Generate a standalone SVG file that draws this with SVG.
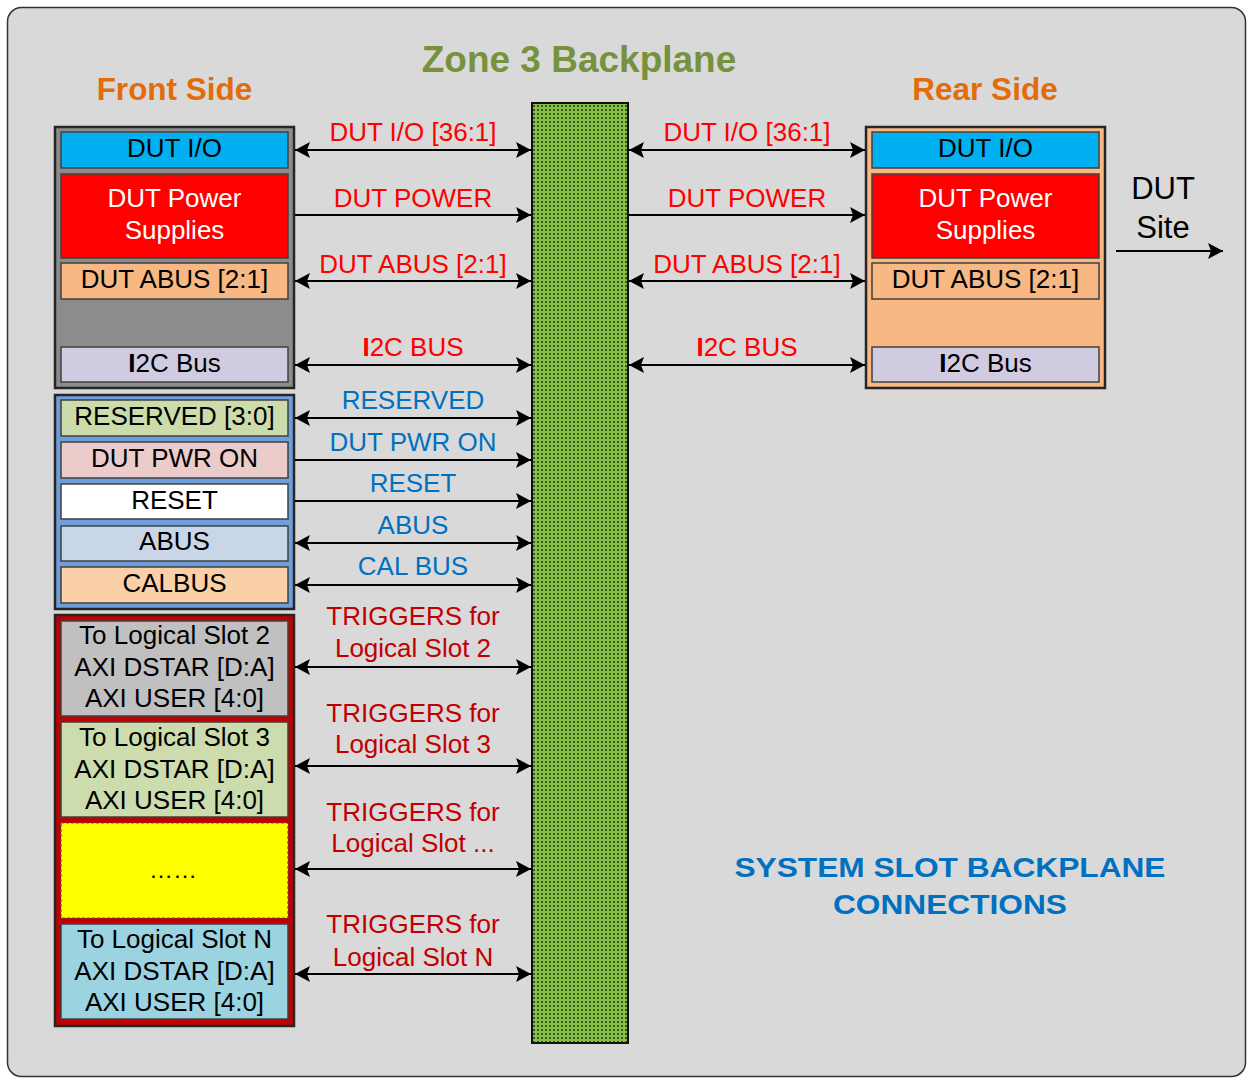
<svg xmlns="http://www.w3.org/2000/svg" width="1247" height="1078" viewBox="0 0 1247 1078">
<style>
text{font-family:"Liberation Sans",Arial,sans-serif;text-anchor:middle}
.t26{font-size:26px}
.blk{fill:#000}
.wht{fill:#fff}
.red{fill:#ff0000}
.blu{fill:#0070c0}
.drd{fill:#c00000}
.hdr{font-weight:bold;font-size:31.5px;fill:#e36c09}
.outer{stroke:#262626;stroke-width:2.5}
.inner{stroke:#404040;stroke-width:1.5}
.ln{stroke:#000;stroke-width:2;fill:none}
</style>
<defs>
<marker id="ah" viewBox="0 0 16 16" markerWidth="16" markerHeight="16" refX="15" refY="8" orient="auto-start-reverse" markerUnits="userSpaceOnUse">
<path d="M0,0 L15,8 L0,16 L3,8 Z" fill="#000"/>
</marker>
<pattern id="dots" width="4" height="4" patternUnits="userSpaceOnUse">
<rect width="4" height="4" fill="#86c246"/>
<rect x="1" y="1" width="2" height="2" fill="#38591c"/>
</pattern>
</defs>

<rect x="7.5" y="7.5" width="1238" height="1069" rx="14" fill="#d9d9d9" stroke="#333" stroke-width="1.5"/>

<text x="579" y="72" style="font-weight:bold;font-size:37px;fill:#76923c">Zone 3 Backplane</text>
<text x="174.5" y="100" class="hdr">Front Side</text>
<text x="985" y="100" class="hdr">Rear Side</text>

<g id="backplane">
<rect x="532" y="103" width="96" height="940" fill="url(#dots)" stroke="#111" stroke-width="2"/>
</g>

<g id="front-dut">
<rect x="55" y="127" width="239" height="261" fill="#8c8c8c" class="outer"/>
<rect x="61" y="132" width="227" height="36" fill="#00b0f0" class="inner"/>
<text x="174.5" y="157" class="t26 blk">DUT I/O</text>
<rect x="61" y="174" width="227" height="84" fill="#ff0000" class="inner"/>
<text x="174.5" y="207" class="t26 wht">DUT Power</text>
<text x="174.5" y="239" class="t26 wht">Supplies</text>
<rect x="61" y="263" width="227" height="36" fill="#f7b883" class="inner"/>
<text x="174.5" y="288" class="t26 blk">DUT ABUS [2:1]</text>
<rect x="61" y="347" width="227" height="35" fill="#d1cbe1" class="inner"/>
<text x="174.5" y="372" class="t26 blk"><tspan font-weight="bold">I</tspan>2C Bus</text>
</g>

<g id="rear-dut">
<rect x="866" y="127" width="239" height="261" fill="#f7b883" class="outer"/>
<rect x="872" y="132" width="227" height="36" fill="#00b0f0" class="inner"/>
<text x="985.5" y="157" class="t26 blk">DUT I/O</text>
<rect x="872" y="174" width="227" height="84" fill="#ff0000" class="inner"/>
<text x="985.5" y="207" class="t26 wht">DUT Power</text>
<text x="985.5" y="239" class="t26 wht">Supplies</text>
<rect x="872" y="263" width="227" height="36" fill="#f7b883" class="inner"/>
<text x="985.5" y="288" class="t26 blk">DUT ABUS [2:1]</text>
<rect x="872" y="347" width="227" height="35" fill="#d1cbe1" class="inner"/>
<text x="985.5" y="372" class="t26 blk"><tspan font-weight="bold">I</tspan>2C Bus</text>
</g>

<g id="front-ctrl">
<rect x="55" y="395" width="239" height="214" fill="#6f9fdb" class="outer"/>
<rect x="61" y="400" width="227" height="36" fill="#cbdbaa" class="inner"/>
<text x="174.5" y="425" class="t26 blk">RESERVED [3:0]</text>
<rect x="61" y="442" width="227" height="36" fill="#eccbcb" class="inner"/>
<text x="174.5" y="467" class="t26 blk">DUT PWR ON</text>
<rect x="61" y="484" width="227" height="35" fill="#ffffff" class="inner"/>
<text x="174.5" y="509" class="t26 blk">RESET</text>
<rect x="61" y="526" width="227" height="35" fill="#c8d6e8" class="inner"/>
<text x="174.5" y="550" class="t26 blk">ABUS</text>
<rect x="61" y="567" width="227" height="36" fill="#fad0a8" class="inner"/>
<text x="174.5" y="592" class="t26 blk">CALBUS</text>
</g>

<g id="front-slots">
<rect x="55" y="615" width="239" height="411" fill="#c00000" class="outer"/>
<rect x="61" y="621" width="227" height="95" fill="#c0c0c0" class="inner"/>
<text x="174.5" y="644" class="t26 blk">To Logical Slot 2</text>
<text x="174.5" y="676" class="t26 blk">AXI DSTAR [D:A]</text>
<text x="174.5" y="707" class="t26 blk">AXI USER [4:0]</text>
<rect x="61" y="722" width="227" height="95" fill="#ccdcac" class="inner"/>
<text x="174.5" y="746" class="t26 blk">To Logical Slot 3</text>
<text x="174.5" y="778" class="t26 blk">AXI DSTAR [D:A]</text>
<text x="174.5" y="809" class="t26 blk">AXI USER [4:0]</text>
<rect x="61" y="823" width="227" height="95" fill="#ffff00" stroke="#555" stroke-width="1.2" stroke-dasharray="3,2"/>
<text x="173" y="878" style="font-size:24px" class="blk">……</text>
<rect x="61" y="924" width="227" height="95" fill="#9cd3e0" class="inner"/>
<text x="174.5" y="948" class="t26 blk">To Logical Slot N</text>
<text x="174.5" y="980" class="t26 blk">AXI DSTAR [D:A]</text>
<text x="174.5" y="1011" class="t26 blk">AXI USER [4:0]</text>
</g>

<g id="connectors">
<line x1="295" y1="150" x2="531" y2="150" class="ln" marker-start="url(#ah)" marker-end="url(#ah)"/>
<line x1="295" y1="215" x2="531" y2="215" class="ln" marker-end="url(#ah)"/>
<line x1="295" y1="281" x2="531" y2="281" class="ln" marker-start="url(#ah)" marker-end="url(#ah)"/>
<line x1="295" y1="365" x2="531" y2="365" class="ln" marker-start="url(#ah)" marker-end="url(#ah)"/>

<line x1="629" y1="150" x2="865" y2="150" class="ln" marker-start="url(#ah)" marker-end="url(#ah)"/>
<line x1="629" y1="215" x2="865" y2="215" class="ln" marker-end="url(#ah)"/>
<line x1="629" y1="281" x2="865" y2="281" class="ln" marker-start="url(#ah)" marker-end="url(#ah)"/>
<line x1="629" y1="365" x2="865" y2="365" class="ln" marker-start="url(#ah)" marker-end="url(#ah)"/>

<line x1="295" y1="418" x2="531" y2="418" class="ln" marker-start="url(#ah)" marker-end="url(#ah)"/>
<line x1="295" y1="460" x2="531" y2="460" class="ln" marker-end="url(#ah)"/>
<line x1="295" y1="501" x2="531" y2="501" class="ln" marker-end="url(#ah)"/>
<line x1="295" y1="543" x2="531" y2="543" class="ln" marker-start="url(#ah)" marker-end="url(#ah)"/>
<line x1="295" y1="585" x2="531" y2="585" class="ln" marker-start="url(#ah)" marker-end="url(#ah)"/>

<line x1="295" y1="667" x2="531" y2="667" class="ln" marker-start="url(#ah)" marker-end="url(#ah)"/>
<line x1="295" y1="766" x2="531" y2="766" class="ln" marker-start="url(#ah)" marker-end="url(#ah)"/>
<line x1="295" y1="869" x2="531" y2="869" class="ln" marker-start="url(#ah)" marker-end="url(#ah)"/>
<line x1="295" y1="974" x2="531" y2="974" class="ln" marker-start="url(#ah)" marker-end="url(#ah)"/>

<line x1="1116" y1="251" x2="1223" y2="251" class="ln" marker-end="url(#ah)"/>
</g>

<g id="labels">
<text x="413" y="141" class="t26 red">DUT I/O [36:1]</text>
<text x="413" y="207" class="t26 red">DUT POWER</text>
<text x="413" y="273" class="t26 red">DUT ABUS [2:1]</text>
<text x="413" y="356" class="t26 red"><tspan font-weight="bold">I</tspan>2C BUS</text>
<text x="747" y="141" class="t26 red">DUT I/O [36:1]</text>
<text x="747" y="207" class="t26 red">DUT POWER</text>
<text x="747" y="273" class="t26 red">DUT ABUS [2:1]</text>
<text x="747" y="356" class="t26 red"><tspan font-weight="bold">I</tspan>2C BUS</text>

<text x="413" y="409" class="t26 blu">RESERVED</text>
<text x="413" y="451" class="t26 blu">DUT PWR ON</text>
<text x="413" y="492" class="t26 blu">RESET</text>
<text x="413" y="534" class="t26 blu">ABUS</text>
<text x="413" y="575" class="t26 blu">CAL BUS</text>

<text x="413" y="625" class="t26 drd">TRIGGERS for</text>
<text x="413" y="657" class="t26 drd">Logical Slot 2</text>
<text x="413" y="722" class="t26 drd">TRIGGERS for</text>
<text x="413" y="753" class="t26 drd">Logical Slot 3</text>
<text x="413" y="821" class="t26 drd">TRIGGERS for</text>
<text x="413" y="852" class="t26 drd">Logical Slot ...</text>
<text x="413" y="933" class="t26 drd">TRIGGERS for</text>
<text x="413" y="966" class="t26 drd">Logical Slot N</text>

<text x="1163" y="199" style="font-size:31px" class="blk">DUT</text>
<text x="1163" y="238" style="font-size:31px" class="blk">Site</text>

<text x="950" y="877" style="font-size:27px;font-weight:bold" class="blu" textLength="431" lengthAdjust="spacingAndGlyphs">SYSTEM SLOT BACKPLANE</text>
<text x="950" y="914" style="font-size:27px;font-weight:bold" class="blu" textLength="234" lengthAdjust="spacingAndGlyphs">CONNECTIONS</text>
</g>
</svg>
